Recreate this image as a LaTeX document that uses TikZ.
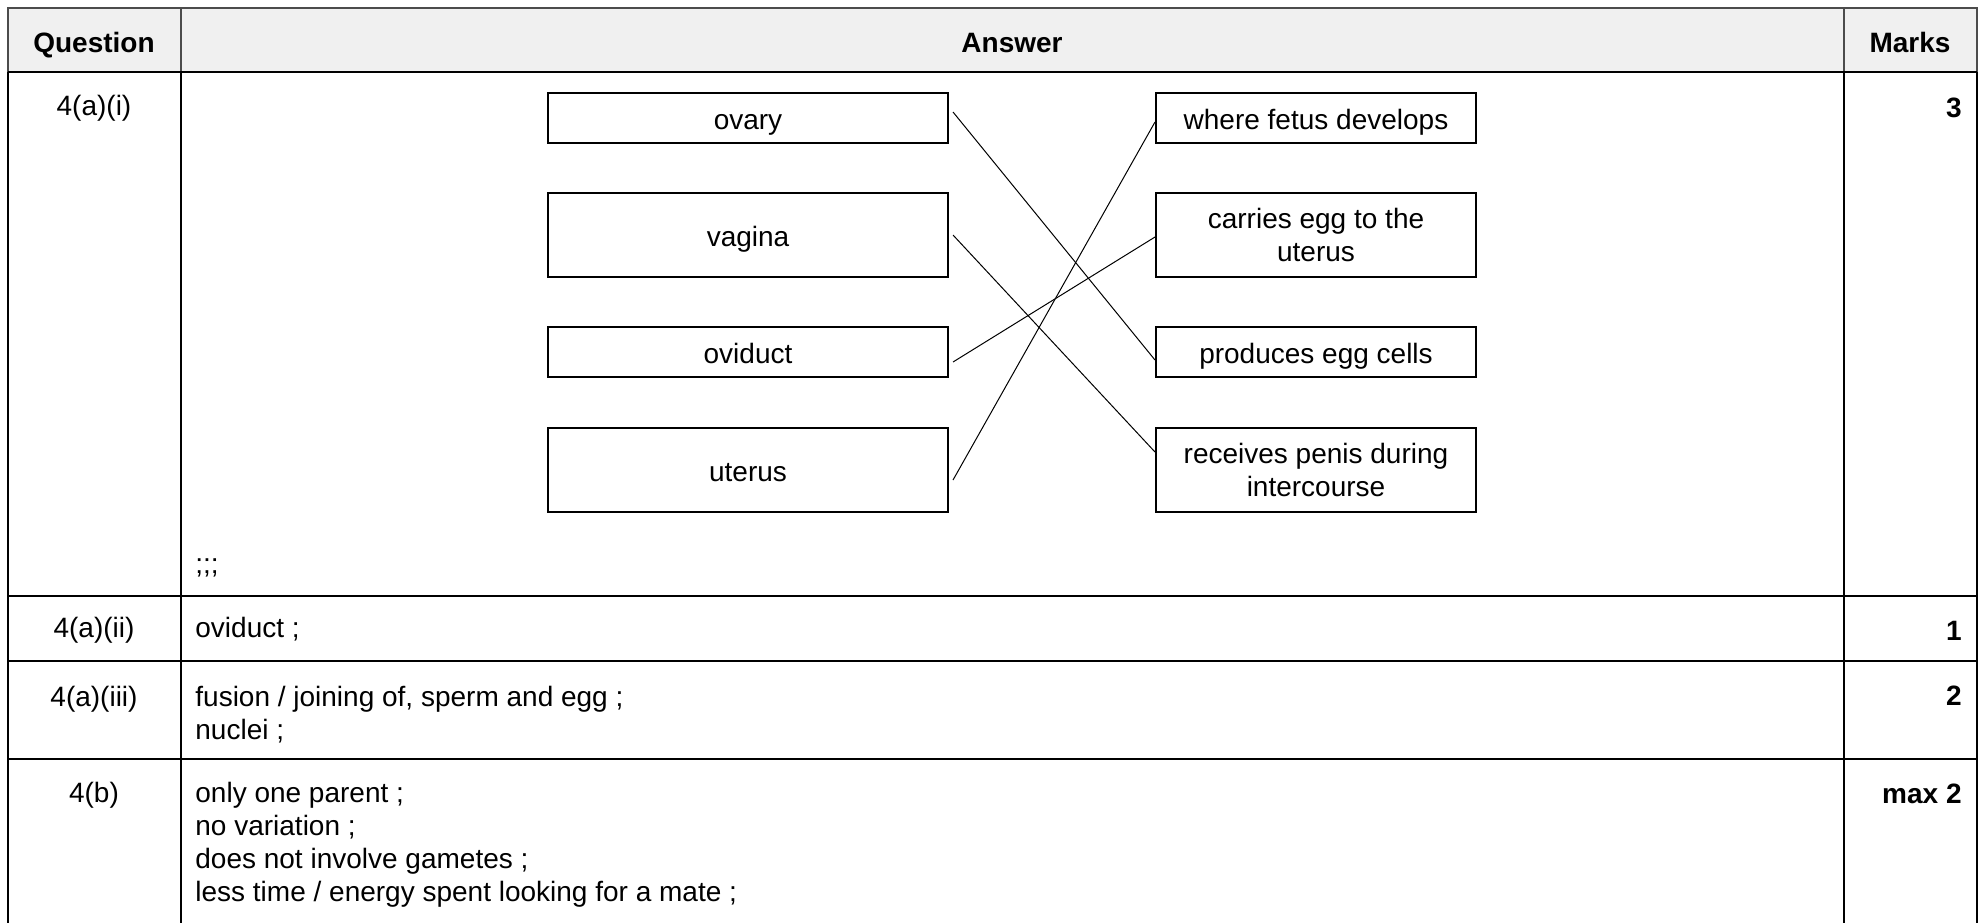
\documentclass[tikz,border=0pt]{standalone}
\usepackage{fontspec}
\setmainfont{Liberation Sans}
\usetikzlibrary{positioning}
\definecolor{colorHead}{HTML}{F0F0F0}
\definecolor{colorRule}{HTML}{000000}

\tikzset{
    rule/.style={line width=1pt, colorRule},
    headrule/.style={line width=0.6pt, black!70},
    organ/.style={draw, line width=1pt, minimum width=200pt, inner sep=0pt, align=center},
    role/.style={draw, line width=1pt, minimum width=160pt, inner sep=0pt, align=center},
    oneline/.style={text height=14.4pt, text depth=3pt},
    link/.style={line width=0.5pt},
    qlabel/.style={inner sep=0pt, anchor=base},
    answer/.style={inner sep=0pt, anchor=base west},
    markcell/.style={inner sep=0pt, anchor=base east, font=\fontsize{14}{16.5}\selectfont\bfseries},
}

\begin{document}
\begin{tikzpicture}[x=0.5pt, y=-0.5pt, font=\fontsize{14}{16.5}\selectfont]
        \useasboundingbox (0,0) rectangle (1980,923);

        % header row
        \fill[colorHead] (8,8) rectangle (1977,72);
        \draw[headrule] (8,72) -- (8,8) -- (1977,8) -- (1977,72);
        \draw[headrule] (181,8) -- (181,72);
        \draw[headrule] (1844,8) -- (1844,72);
        \node[qlabel, font=\fontsize{14}{16.5}\selectfont\bfseries] (hQuestion) at (94,52) {Question};
        \node[qlabel, font=\fontsize{14}{16.5}\selectfont\bfseries] (hAnswer) at (1012,52) {Answer};
        \node[qlabel, font=\fontsize{14}{16.5}\selectfont\bfseries] (hMarks) at (1910,52) {Marks};

        % grid of the body
        \draw[rule] (8,72) -- (8,923);
        \draw[rule] (181,72) -- (181,923);
        \draw[rule] (1844,72) -- (1844,923);
        \draw[rule] (1977,72) -- (1977,923);
        \draw[rule] (8,72) -- (1977,72);
        \draw[rule] (8,596) -- (1977,596);
        \draw[rule] (8,661) -- (1977,661);
        \draw[rule] (8,759) -- (1977,759);

        % 4(a)(i): matching boxes
        \node[organ, oneline, minimum height=25pt] (ovary) at (748,118) {ovary};
        \node[organ, oneline, minimum height=42pt] (vagina) at (748,235) {vagina};
        \node[organ, oneline, minimum height=25pt] (oviduct) at (748,352) {oviduct};
        \node[organ, oneline, minimum height=42pt] (uterus) at (748,470) {uterus};

        \node[role, oneline, minimum height=25pt] (fetus) at (1316,118) {where fetus develops};
        \node[role, minimum height=42pt] (carries) at (1316,235) {carries egg to the\\uterus};
        \node[role, oneline, minimum height=25pt] (produces) at (1316,352) {produces egg cells};
        \node[role, minimum height=42pt] (receives) at (1316,470) {receives penis during\\intercourse};

        \draw[link] ([shift={(4,-6)}]ovary.east) -- ([shift={(0,8)}]produces.west);
        \draw[link] ([shift={(4,0)}]vagina.east) -- ([shift={(0,-18)}]receives.west);
        \draw[link] ([shift={(4,10)}]oviduct.east) -- ([shift={(0,2)}]carries.west);
        \draw[link] ([shift={(4,10)}]uterus.east) -- ([shift={(0,4)}]fetus.west);

        % question labels
        \node[qlabel] (q1) at (94,115) {4(a)(i)};
        \node[qlabel] (q2) at (94,637) {4(a)(ii)};
        \node[qlabel] (q3) at (94,706) {4(a)(iii)};
        \node[qlabel] (q4) at (94,802) {4(b)};

        % answers
        \node[answer] (a1) at (195,573) {;;;};
        \node[answer] (a2) at (195,637) {oviduct ;};
        \node[answer] (a3a) at (195,706) {fusion / joining of, sperm and egg ;};
        \node[answer] (a3b) at (195,739) {nuclei ;};
        \node[answer] (a4a) at (195,802) {only one parent ;};
        \node[answer] (a4b) at (195,835) {no variation ;};
        \node[answer] (a4c) at (195,868) {does not involve gametes ;};
        \node[answer] (a4d) at (195,901) {less time / energy spent looking for a mate ;};

        % marks
        \node[markcell] (m1) at (1962,117) {3};
        \node[markcell] (m2) at (1962,640) {1};
        \node[markcell] (m3) at (1962,705) {2};
        \node[markcell] (m4) at (1962,803) {max 2};
    \end{tikzpicture}
\end{document}
